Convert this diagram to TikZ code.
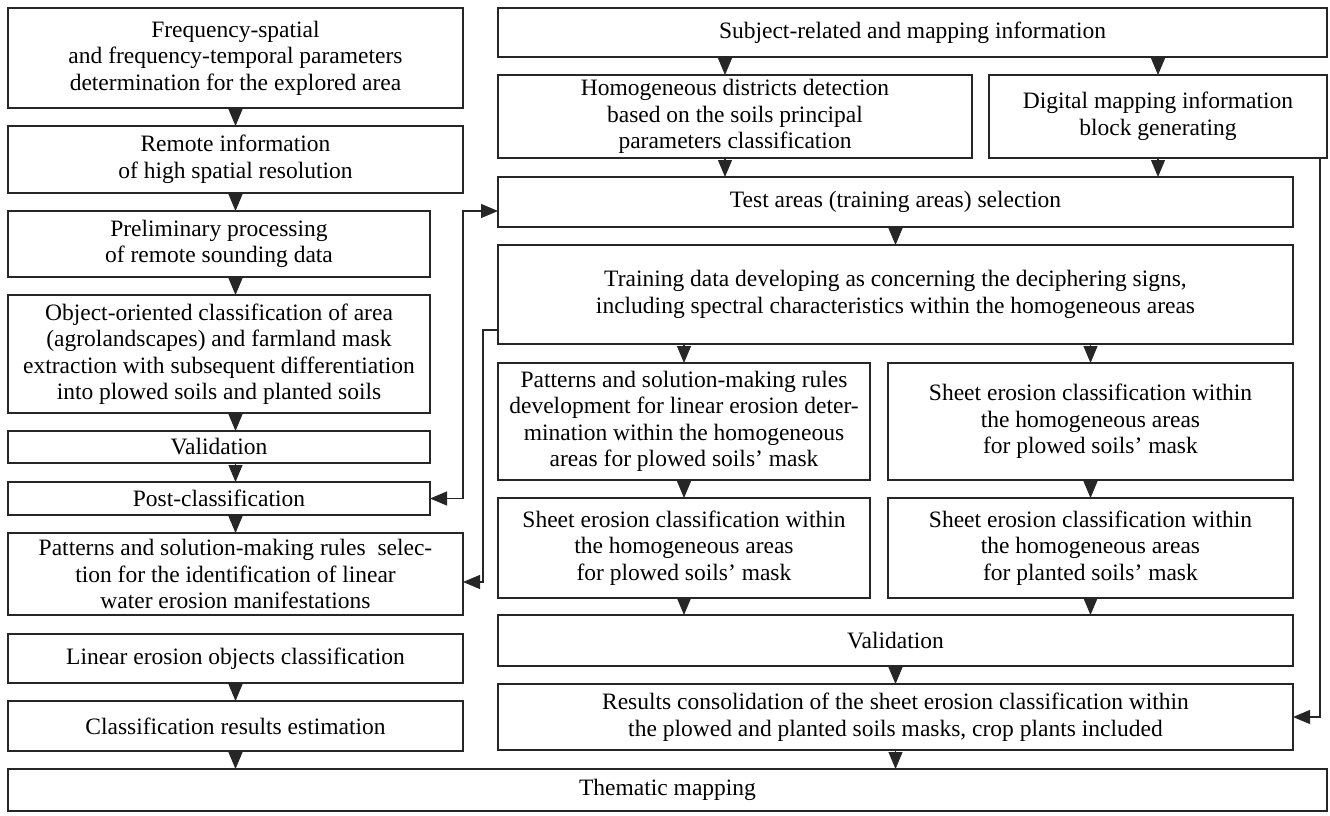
\documentclass[tikz,border=0pt]{standalone}
\usepackage{fontspec}
\setmainfont{Liberation Serif}
\usetikzlibrary{arrows.meta, positioning, calc}

\begin{document}
\begin{tikzpicture}[
    x=1pt, y=1pt,
    font=\fontsize{23.5}{26.5}\selectfont,
    blk/.style={draw=black!85, line width=1.1pt, align=center, inner sep=0pt, outer sep=0pt},
    arr/.style={-{Triangle[length=17pt,width=14pt]}, line width=1.1pt, draw=black!85},
    arrb/.style={{Triangle[length=17pt,width=14pt]}-{Triangle[length=17pt,width=14pt]}, line width=1.1pt, draw=black!85}
]
\useasboundingbox (0,0) rectangle (1330,-816);

% left column
\node[blk, anchor=north west, minimum width=455pt, minimum height=100pt] (f1) at (8,-8)
    {Frequency-spatial\\ and frequency-temporal parameters\\ determination for the explored area};
\node[blk, below right=18pt and 0pt of f1.south west, minimum width=455pt, minimum height=67pt] (f2)
    {Remote information\\ of high spatial resolution};
\node[blk, below right=18pt and 0pt of f2.south west, minimum width=422pt, minimum height=66pt] (f3)
    {Preliminary processing\\ of remote sounding data};
\node[blk, below right=18pt and 0pt of f3.south west, minimum width=422pt, minimum height=118pt] (f4)
    {Object-oriented classification of area\\ (agrolandscapes) and farmland mask\\ extraction with subsequent differentiation\\ into plowed soils and planted soils};
\node[blk, below right=18pt and 0pt of f4.south west, minimum width=422pt, minimum height=32pt] (f5)
    {Validation};
\node[blk, below right=19pt and 0pt of f5.south west, minimum width=422pt, minimum height=33pt] (f6)
    {Post-classification};
\node[blk, below right=18pt and 0pt of f6.south west, minimum width=455pt, minimum height=82pt] (f7)
    {Patterns and solution-making rules\ \ selec-\\ tion for the identification of linear\\ water erosion manifestations};
\node[blk, below right=19pt and 0pt of f7.south west, minimum width=455pt, minimum height=49pt] (f8)
    {Linear erosion objects classification};
\node[blk, below right=18pt and 0pt of f8.south west, minimum width=455pt, minimum height=50pt] (f9)
    {Classification results estimation};
\node[blk, below right=18pt and 0pt of f9.south west, minimum width=1319pt, minimum height=42pt] (map)
    {Thematic mapping};

% right part
\node[blk, below right=0pt and 35pt of f1.north east, minimum width=829pt, minimum height=49pt] (r1)
    {Subject-related and mapping information};
\node[blk, below right=18pt and 0pt of r1.south west, minimum width=474pt, minimum height=83pt] (r2)
    {Homogeneous districts detection\\ based on the soils principal\\ parameters classification};
\node[blk, below left=18pt and 0pt of r1.south east, minimum width=338pt, minimum height=83pt] (r3)
    {Digital mapping information\\ block generating};
\node[blk, below right=19pt and 0pt of r2.south west, minimum width=795pt, minimum height=50pt] (r4)
    {Test areas (training areas) selection};
\node[blk, below right=18pt and 0pt of r4.south west, minimum width=795pt, minimum height=99pt] (r5)
    {Training data developing as concerning the deciphering signs,\\ including spectral characteristics within the homogeneous areas};
\node[blk, below right=19pt and 0pt of r5.south west, minimum width=372pt, minimum height=117pt] (r6)
    {Patterns and solution-making rules\\ development for linear erosion deter-\\ mination within the homogeneous\\ areas for plowed soils’ mask};
\node[blk, below left=19pt and 0pt of r5.south east, minimum width=405pt, minimum height=117pt] (r7)
    {Sheet erosion classification within\\ the homogeneous areas\\ for plowed soils’ mask};
\node[blk, below right=18pt and 0pt of r6.south west, minimum width=372pt, minimum height=100pt] (r8)
    {Sheet erosion classification within\\ the homogeneous areas\\ for plowed soils’ mask};
\node[blk, below left=18pt and 0pt of r7.south east, minimum width=405pt, minimum height=100pt] (r9)
    {Sheet erosion classification within\\ the homogeneous areas\\ for planted soils’ mask};
\node[blk, below right=17pt and 0pt of r8.south west, minimum width=795pt, minimum height=51pt] (r10)
    {Validation};
\node[blk, below right=18pt and 0pt of r10.south west, minimum width=795pt, minimum height=66pt] (r11)
    {Results consolidation of the sheet erosion classification within\\ the plowed and planted soils masks, crop plants included};

% arrows, left column
\foreach \a/\b in {f1/f2, f2/f3, f3/f4, f4/f5, f5/f6, f6/f7, f8/f9, f9/map}
    \draw[arr] (\a.south -| f1.south) -- (\b.north -| f1.south);

% arrows, right part
\coordinate (hx) at ($(r2.south)+(-10,0)$);
\foreach \a/\b in {r1/r2, r2/r4}
    \draw[arr] (\a.south -| hx) -- (\b.north -| hx);
\foreach \a/\b in {r6/r8, r8/r10}
    \draw[arr] (\a.south -| r6.south) -- (\b.north -| r6.south);
\foreach \a/\b in {r1/r3, r3/r4}
    \draw[arr] (\a.south -| r3.south) -- (\b.north -| r3.south);
\foreach \a/\b in {r5/r7, r7/r9, r9/r10}
    \draw[arr] (\a.south -| r7.south) -- (\b.north -| r7.south);
\foreach \a/\b in {r4/r5, r10/r11, r11/map}
    \draw[arr] (\a.south -| r4.south) -- (\b.north -| r4.south);
\draw[arr] (r5.south -| r6.south) -- (r6.north);

% side connectors
\coordinate (tin) at ($(r4.south west)+(0,16)$);
\coordinate (tout) at ($(r5.south west)+(0,14)$);
\draw[arrb] (f6.east) -- (f6.east -| f1.east) -- (f1.east |- tin) -- (tin);
\draw[arr] (tout) -- ++(-15,0) |- ($(f7.east)+(0,-8)$);
\draw[arr] ($(r3.south east)+(-7,0)$) |- (r11.east);
\end{tikzpicture}
\end{document}
